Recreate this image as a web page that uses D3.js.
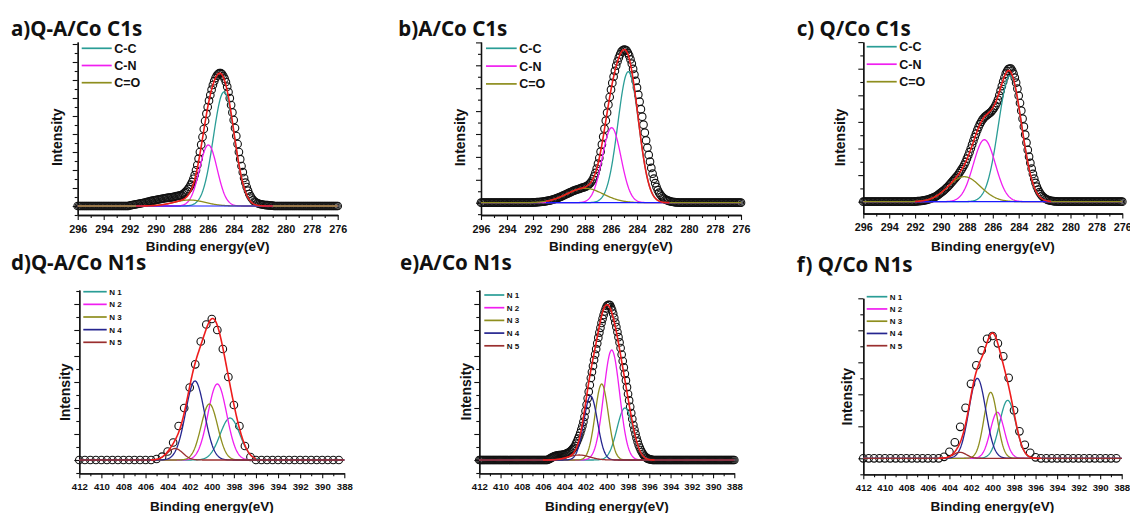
<!DOCTYPE html>
<html>
<head>
<meta charset="utf-8">
<script src="https://cdn.jsdelivr.net/npm/d3@7"></script>
<style>
  body { margin: 0; background: #fff; }
  svg { display: block; }
</style>
</head>
<body>
<svg id="chart" width="1130" height="513"></svg>
<script>
// ---- Panel titles, component names and axis tick labels ----
const titles = ["a)Q-A/Co C1s", "b)A/Co C1s", "c) Q/Co C1s", "d)Q-A/Co N1s", "e)A/Co N1s", "f) Q/Co N1s"];
const c1sNames = ["C-C", "C-N", "C=O"];
const n1sNames = ["N 1", "N 2", "N 3", "N 4", "N 5"];
const c1sTickLabels = [296, 294, 292, 290, 288, 286, 284, 282, 280, 278, 276];
const n1sTickLabels = [412, 410, 408, 406, 404, 402, 400, 398, 396, 394, 392, 390, 388];

// ---- Fitted components: centre (eV), height (a.u.), gaussian sigma (eV) ----
const c1sQA_center = [284.75, 285.95, 287.4];
const c1sQA_height = [114, 61, 6];
const c1sQA_sigma  = [0.81, 0.68, 1.2];

const c1sA_center = [284.67, 285.95, 288.0];
const c1sA_height = [131, 75, 14.4];
const c1sA_sigma  = [0.8, 0.72, 1.4];

const c1sQ_center = [284.67, 286.65, 288.2];
const c1sQ_height = [126, 62, 25];
const c1sQ_sigma  = [0.9, 0.85, 1.25];

const n1sQA_center = [398.35, 399.5, 400.22, 401.52, 403.33];
const n1sQA_height = [42, 76, 56, 79, 11.5];
const n1sQA_sigma  = [0.9, 0.85, 0.75, 0.85, 0.7];

const n1sA_center = [398.29, 399.54, 400.48, 401.52, 402.6];
const n1sA_height = [52, 110, 76, 64, 5];
const n1sA_sigma  = [0.75, 0.75, 0.62, 0.64, 1.0];

const n1sQ_center = [398.59, 399.55, 400.17, 401.41, 403.02];
const n1sQ_height = [58, 46, 66, 80, 6];
const n1sQ_sigma  = [0.75, 0.65, 0.62, 0.78, 0.6];

// ---- Measured spectra (open circles): first energy, step, intensities ----
const c1sQA_start = 296, c1sQA_step = 0.1;
const c1sQA_counts = [
  0,0,0,0,0,0,0,0,0,0,0,0,0,0,0,0,0,0,0,0,
  0,0,0,0,0,0,0,0,0,0,0,0,0,0,0,0,0,0,0,0,
  0.5,0.75,1,1.25,1.5,1.75,2,2.25,2.5,2.75,
  3,3.25,3.5,3.85,4.2,4.5,4.8,5.1,5.4,5.7,
  6,6.25,6.5,6.75,7,7.25,7.5,7.75,8,8.15,
  8.3,8.5,8.7,8.95,9.2,9.5,9.8,10,10.3,10.6,
  11,11.9,13,14.1,15.5,17.1,19,21.3,24,27.2,
  31,35.7,41,47.3,54,61.3,69,77,85,92.3,
  99,105.3,111,116.3,121,124.8,128,130.3,132,132.8,
  133,131.8,130,127.3,124,119.3,114,107.8,101,93.6,
  86,78,70,62,54,46.8,40,33.8,28,23.3,
  19,15.3,12,9.6,7.5,5.9,4.5,3.7,3,2.5,
  2,1.75,1.5,1.25,1,0.9,0.8,0.65,0.5,0.4,
  0.3,
  0,0,0,0,0,0,0,0,0,0,0,0,0,0,0,0,0,0,0,0,0,0,0,0,0,
  0,0,0,0,0,0,0,0,0,0,0,0,0,0,0,0,0,0,0,0,0,0,0,0,0
];

const c1sA_start = 296, c1sA_step = 0.1;
const c1sA_counts = [
  0,0,0,0,0,0,0,0,0,0,0,0,0,0,0,0,0,0,0,0,
  0,0,0,0,0,0,0,0,0,0,0,0,0,0,0,0,0,0,0,0,
  0.3,0.35,0.4,0.5,0.6,0.7,0.8,0.95,1.1,1.3,
  1.5,1.75,2,2.3,2.6,3,3.4,3.85,4.3,4.8,
  5.3,5.85,6.4,7,7.6,8.2,8.8,9.4,10,10.6,
  11.2,11.75,12.3,12.75,13.2,13.6,14,14.5,15,15.4,
  15.8,16.4,17.2,18.2,19.5,21.2,23.4,26.3,29.8,34,
  39,44.7,51,58.3,66,74,82,90,98,105.7,
  113,119.8,126,131.8,137,141.3,145,148.3,151,152.3,
  153,152.8,152,149.8,147,143.3,139,133.8,128,121.8,
  115,108,101,93.5,86,78,70,62.3,55,47.8,
  41,34.8,29,24,19.5,15.8,12.5,10,8,6.4,
  5,3.9,3,2.5,2,1.6,1.2,0.95,0.7,0.55,
  0.4,0.3,0.2,
  0,0,0,0,0,0,0,0,0,0,0,0,0,0,0,0,0,0,0,0,0,0,0,0,
  0,0,0,0,0,0,0,0,0,0,0,0,0,0,0,0,0,0,0,0,0,0,0,0
];

const c1sQ_start = 296, c1sQ_step = 0.1;
const c1sQ_counts = [
  0,0,0,0,0,0,0,0,0,0,0,0,0,0,0,0,0,0,0,0,
  0,0,0,0,0,0,0,0,0,0,0,0,0,0,0,0,0,0,0,0,
  0.3,0.4,0.5,0.6,0.7,0.85,1,1.25,1.5,1.85,
  2.2,2.6,3,3.5,4,4.6,5.3,6.1,7,8,
  9,10,11,12.2,13.5,14.7,16,17.5,19,20.5,
  22,23.5,25,26.7,28.5,30.5,32.5,34.7,37,39.8,
  43,46.2,49.5,53.2,57,60.8,64.5,68,71.5,74.6,
  77.5,79.9,82,83.6,85,86,87,88,89,90.4,
  92,93.9,96,98.8,102,106.3,111,115.6,120,124.2,
  128,130.6,132.5,133.2,133,131,128,124,119,113,
  106,98.7,91,83,75,67,59,51.8,45,38.8,
  33,27.8,23,18.8,15,12,9.5,7.5,5.8,4.6,
  3.5,2.7,2,1.6,1.2,0.95,0.7,0.55,0.4,0.3,
  0.2,
  0,0,0,0,0,0,0,0,0,0,0,0,0,0,0,0,0,0,0,0,0,0,0,0,0,
  0,0,0,0,0,0,0,0,0,0,0,0,0,0,0,0,0,0,0,0,0,0,0,0,0
];

const n1sQA_start = 412, n1sQA_step = 0.5;
const n1sQA_counts = [
  0,0,0,0,0,0,0,0,0,0,0,0,0,0,
  1,3.3,8.5,17.5,34,52,72.5,95.7,118.5,135.5,141,130,111,83,55,34,14,3,
  0,0,0,0,0,0,0,0,0,0,0,0,0,0,0,0
];

const n1sA_start = 412, n1sA_step = 0.1;
const n1sA_counts = [
  0,0,0,0,0,0,0,0,0,0,0,0,0,0,0,0,0,0,0,0,0,0,0,0,0,0,0,0,0,0,0,0,
  0,0,0,0,0,0,0,0,0,0,0,0,0,0,0,0,0,0,0,0,0,0,0,0,0,0,0,0,0,0,0,0,0,
  0.5,1.1,1.7,2.3,2.9,3.5,3.8,4.1,4.4,4.6,
  4.8,4.9,5,5.1,5.3,5.5,5.9,6.3,6.8,7.4,
  8,8.9,9.9,11.1,12.5,14,16.3,18.7,21.3,24,
  27,30.5,34,38.2,43.2,49,55.2,61.7,68.3,75,
  82,88,94,100,105.5,111,116.7,122.3,127.4,132.2,
  137,141.2,145,148.5,151.5,154,155,155.2,154.8,152.6,
  150,146.5,142.2,137.5,133,128,122.8,117.6,112,105.5,
  99,92.6,86.2,79.6,72.8,66,59.6,53.2,47,41,
  35,30.5,26.2,22,18.3,15,12.5,10,8,6.2,
  4.5,3.4,2.4,1.7,1.2,0.8,0.5,0.35,
  0,0,0,0,0,0,0,0,0,0,0,0,0,0,0,0,0,0,0,0,0,0,0,0,0,0,0,0,0,0,0,0,0,0,0,0,0,0,0,
  0,0,0,0,0,0,0,0,0,0,0,0,0,0,0,0,0,0,0,0,0,0,0,0,0,0,0,0,0,0,0,0,0,0,0,0,0,0,0
];

const n1sQ_start = 412, n1sQ_step = 0.5;
const n1sQ_counts = [
  0,0,0,0,0,0,0,0,0,0,0,0,0,0,0,
  1.5,6.5,16,31.5,50.5,74.5,93,108,119.5,122.3,115,102,80.5,48,27,13.5,5.5,1,
  0,0,0,0,0,0,0,0,0,0,0,0,0,0,0
];

// ---- Styling ----
const compColors = ["#2a9d96", "#f01ef0", "#8e8e1e", "#25258f", "#9a2f2f"];
const fitColor = "#ee1c1c";
const baseColor = "#1a1aff";
const axisFont = "'Liberation Sans', Arial, sans-serif";
const titleFont = "'Noto Sans', 'Liberation Sans', sans-serif";

const spectra = [
  {center: c1sQA_center, height: c1sQA_height, sigma: c1sQA_sigma, counts: c1sQA_counts, start: c1sQA_start, step: c1sQA_step},
  {center: c1sA_center,  height: c1sA_height,  sigma: c1sA_sigma,  counts: c1sA_counts,  start: c1sA_start,  step: c1sA_step},
  {center: c1sQ_center,  height: c1sQ_height,  sigma: c1sQ_sigma,  counts: c1sQ_counts,  start: c1sQ_start,  step: c1sQ_step},
  {center: n1sQA_center, height: n1sQA_height, sigma: n1sQA_sigma, counts: n1sQA_counts, start: n1sQA_start, step: n1sQA_step},
  {center: n1sA_center,  height: n1sA_height,  sigma: n1sA_sigma,  counts: n1sA_counts,  start: n1sA_start,  step: n1sA_step},
  {center: n1sQ_center,  height: n1sQ_height,  sigma: n1sQ_sigma,  counts: n1sQ_counts,  start: n1sQ_start,  step: n1sQ_step}
];

// Panel geometry (pixels)
const row1 = {eHi: 296, eLo: 276, names: c1sNames, ticks: c1sTickLabels, tickFont: 10.8, xlabY: 250.5, legFont: 12.5, baseline: true};
const row2 = {eHi: 412, eLo: 388, names: n1sNames, ticks: n1sTickLabels, tickFont: 9.6, xlabY: 510.5, legFont: 8, baseline: false};
const layouts = [
  {...row1, tx: 11,    ty: 36,    left: 77.7,  right: 337.7,  top: 42,    bottom: 215,   base: 206,   yStep: 9,     intX: 56.7,  intY: 137.3, legX: 81.7,  legY: 48.3,  legGap: 17.2,  legLen: 30,   fit: [291.5, 281]},
  {...row1, tx: 398.3, ty: 36,    left: 481,   right: 741,    top: 42,    bottom: 215,   base: 202.7, yStep: 11.45, intX: 460,   intY: 137.5, legX: 486,   legY: 48.3,  legGap: 17.8,  legLen: 30.7, fit: [291, 281.5]},
  {...row1, tx: 796.7, ty: 36,    left: 863.3, right: 1122.3, top: 42,    bottom: 213.5, base: 201.7, yStep: 13.3,  intX: 840,   intY: 137.5, legX: 866.7, legY: 46.7,  legGap: 17.5,  legLen: 30,   fit: [292, 281.5]},
  {...row2, tx: 11,    ty: 270,   left: 79.3,  right: 344.3,  top: 290,   bottom: 473.3, base: 460,   yStep: 13,    intX: 65,    intY: 392.3, legX: 83.3,  legY: 291.7, legGap: 12.65, legLen: 23.4, fit: [405.5, 396]},
  {...row2, tx: 400,   ty: 270,   left: 479.3, right: 734.3,  top: 290,   bottom: 473.3, base: 460,   yStep: 13,    intX: 466,   intY: 391.7, legX: 484.3, legY: 295,   legGap: 12.7,  legLen: 20,   fit: [406, 395.5]},
  {...row2, tx: 796.7, ty: 271.7, left: 863.3, right: 1121.7, top: 298.3, bottom: 474.3, base: 458.3, yStep: 16,    intX: 847.3, intY: 396.7, legX: 866.7, legY: 296.7, legGap: 12.25, legLen: 20.6, fit: [405, 395.5]}
];

const svg = d3.select("#chart");
const gauss = (e, c, h, s) => h * Math.exp(-((e - c) * (e - c)) / (2 * s * s));

function drawPanel(L, S, title) {
  const g = svg.append("g");
  const x = d3.scaleLinear().domain([L.eHi, L.eLo]).range([L.left, L.right]);
  const y = d3.scaleLinear().domain([L.base - L.bottom, L.base - L.top]).range([L.bottom, L.top]);

  // x axis: minor ticks every 1 eV, labelled major ticks every 2 eV
  const xMinor = d3.range(L.eLo, L.eHi + 1).filter(v => v % 2 !== 0);
  g.append("g").attr("transform", `translate(0,${L.bottom})`)
    .call(d3.axisBottom(x).tickValues(xMinor).tickSize(3).tickSizeOuter(0).tickFormat(""));
  const xMajor = g.append("g").attr("transform", `translate(0,${L.bottom})`)
    .call(d3.axisBottom(x).tickValues(L.ticks).tickSize(5).tickSizeOuter(0).tickPadding(5).tickFormat(d3.format("d")));
  xMajor.selectAll("text").attr("font-family", axisFont).attr("font-weight", "bold")
    .attr("font-size", L.tickFont).attr("fill", "#111");

  // y axis without labels
  const [yMin, yMax] = y.domain();
  const kLo = Math.ceil(yMin / L.yStep - 1e-6), kHi = Math.floor(yMax / L.yStep + 1e-6);
  const ks = d3.range(kLo, kHi + 1);
  g.append("g").attr("transform", `translate(${L.left},0)`)
    .call(d3.axisLeft(y).tickValues(ks.filter(k => k % 2 !== 0).map(k => k * L.yStep)).tickSize(3).tickSizeOuter(0).tickFormat(""));
  g.append("g").attr("transform", `translate(${L.left},0)`)
    .call(d3.axisLeft(y).tickValues(ks.filter(k => k % 2 === 0).map(k => k * L.yStep)).tickSize(5).tickSizeOuter(0).tickFormat(""));

  g.selectAll(".domain").attr("stroke", "#111").attr("stroke-width", 1.3);
  g.selectAll(".tick line").attr("stroke", "#111").attr("stroke-width", 1.1);

  // measured points
  const pts = S.counts.map((v, i) => [S.start - i * S.step, v]);
  g.append("g").selectAll("circle").data(pts).join("circle")
    .attr("cx", d => x(d[0])).attr("cy", d => y(d[1])).attr("r", 3.8)
    .attr("fill", "none").attr("stroke", "#111").attr("stroke-width", 1.1);

  // fitted components across the full window
  const n = 480;
  const es = d3.range(n + 1).map(i => L.eHi + (L.eLo - L.eHi) * i / n);
  const line = d3.line().x(d => x(d[0])).y(d => y(d[1]));
  S.center.forEach((c, j) => {
    g.append("path")
      .attr("d", line(es.map(e => [e, gauss(e, c, S.height[j], S.sigma[j])])))
      .attr("fill", "none").attr("stroke", compColors[j]).attr("stroke-width", 1.3);
  });

  const fitEs = es.filter(e => e <= L.fit[0] && e >= L.fit[1]);
  if (L.baseline) {
    g.append("path").attr("d", line(fitEs.map(e => [e, 0])))
      .attr("fill", "none").attr("stroke", baseColor).attr("stroke-width", 1.2);
  }
  const envelope = fitEs.map(e => [e, d3.sum(S.center, (c, j) => gauss(e, c, S.height[j], S.sigma[j]))]);
  g.append("path").attr("d", line(envelope))
    .attr("fill", "none").attr("stroke", fitColor).attr("stroke-width", 1.6);

  // legend
  L.names.forEach((name, j) => {
    const ly = L.legY + j * L.legGap;
    g.append("line").attr("x1", L.legX).attr("x2", L.legX + L.legLen).attr("y1", ly).attr("y2", ly)
      .attr("stroke", compColors[j]).attr("stroke-width", 1.7);
    g.append("text").attr("x", L.legX + L.legLen + 2.5).attr("y", ly).attr("dy", "0.36em")
      .attr("font-family", axisFont).attr("font-weight", "bold").attr("font-size", L.legFont)
      .attr("fill", "#111").text(name);
  });

  // axis titles
  g.append("text").attr("x", (L.left + L.right) / 2).attr("y", L.xlabY)
    .attr("text-anchor", "middle").attr("font-family", axisFont).attr("font-weight", "bold")
    .attr("font-size", 13.5).attr("fill", "#111").text("Binding energy(eV)");
  g.append("text").attr("transform", `translate(${L.intX},${L.intY}) rotate(-90)`)
    .attr("text-anchor", "middle").attr("dominant-baseline", "central")
    .attr("font-family", axisFont).attr("font-weight", "bold").attr("font-size", 14)
    .attr("fill", "#111").text("Intensity");

  // panel title
  g.append("text").attr("x", L.tx).attr("y", L.ty)
    .attr("font-family", titleFont).attr("font-weight", "bold").attr("font-size", 20.5)
    .attr("fill", "#111").text(title);
}

layouts.forEach((L, i) => drawPanel(L, spectra[i], titles[i]));
</script>
</body>
</html>
